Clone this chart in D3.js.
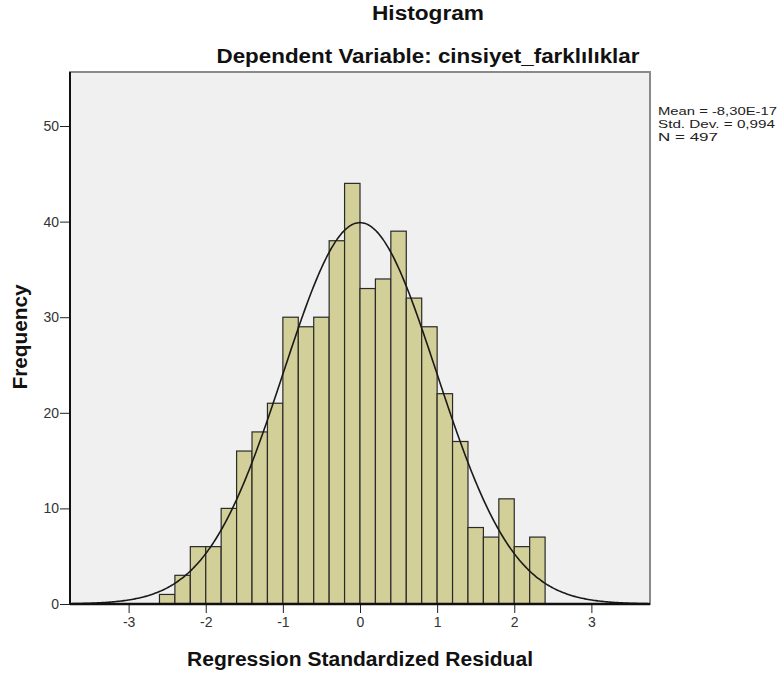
<!DOCTYPE html>
<html>
<head>
<meta charset="utf-8">
<script src="https://cdn.jsdelivr.net/npm/d3@7"></script>
<style>
  body { margin: 0; background: #fff; }
  svg { font-family: "Liberation Sans", Arial, sans-serif; }
  .axis text { font-size: 14px; fill: #333; }
  .axis path, .axis line { stroke: #222; }
</style>
</head>
<body>
<div id="canvas"></div>
<script>
// bin lower edges and counts (bin width 0.2)
var binStarts = [-2.6,-2.4,-2.2,-2.0,-1.8,-1.6,-1.4,-1.2,-1.0,-0.8,-0.6,-0.4,-0.2,
                 0,0.2,0.4,0.6,0.8,1.0,1.2,1.4,1.6,1.8,2.0,2.2];
var counts = [1,3,6,6,10,16,18,21,30,29,30,38,44,
              33,34,39,32,29,22,17,8,7,11,6,7];
var binWidth = 0.2;
var xTicks = [-3,-2,-1,0,1,2,3];
var yTicks = [0,10,20,30,40,50];
var stats = { mean: -8.30e-17, sd: 0.994, n: 497 };
var legendLines = ['Mean = -8,30E-17', 'Std. Dev. = 0,994', 'N = 497'];

var outerWidth = 778, outerHeight = 675;
var m = {t:72, r:128, b:71, l:70};
var w = outerWidth - m.l - m.r,
    h = outerHeight - m.t - m.b;

var svg = d3.select('#canvas')
    .append('svg')
    .attr('width', outerWidth)
    .attr('height', outerHeight);

var plot = svg.append('g')
    .attr('transform','translate(' + m.l + ',' + m.t + ')');

//Scale
var scaleX = d3.scaleLinear()
    .domain([-3.76, 3.76])
    .range([0, w]);
var scaleY = d3.scaleLinear()
    .domain([0, 55.65])
    .range([h, 0]);

//Background + frame
plot.append('rect')
    .attr('width', w).attr('height', h)
    .style('fill', '#f0f0f0')
    .style('stroke', '#8a8a8a')
    .style('stroke-width', 2);

//Bars
plot.selectAll('.bar')
    .data(binStarts)
    .enter()
    .append('rect')
    .attr('class','bar')
    .attr('x', function(d){ return scaleX(d) })
    .attr('width', function(d){ return scaleX(d + binWidth) - scaleX(d) })
    .attr('y', function(d,i){ return scaleY(counts[i]) })
    .attr('height', function(d,i){ return h - scaleY(counts[i]) })
    .style('fill', '#d3cf98')
    .style('stroke', '#2a2a2a')
    .style('stroke-width', 1.2);

//Normal curve from mean, sd, N
var curveX = d3.range(-3.76, 3.7601, 0.02);
var line = d3.line()
    .x(function(d){ return scaleX(d) })
    .y(function(d){
        var z = (d - stats.mean) / stats.sd;
        var f = stats.n * binWidth * Math.exp(-0.5*z*z) / (stats.sd * Math.sqrt(2*Math.PI));
        return scaleY(f);
    })
    .curve(d3.curveBasis);
plot.append('path')
    .datum(curveX)
    .attr('d', line)
    .style('fill','none')
    .style('stroke','#1a1a1a')
    .style('stroke-width', 1.6);

//Axes
var axisX = d3.axisBottom(scaleX)
    .tickValues(xTicks)
    .tickSize(9)
    .tickPadding(4)
    .tickFormat(d3.format('d'));
var axisY = d3.axisLeft(scaleY)
    .tickValues(yTicks)
    .tickSize(10)
    .tickPadding(1);

plot.append('g').attr('class','axis axis-x')
    .attr('transform','translate(0,' + h + ')')
    .call(axisX)
    .call(function(g){ g.select('.domain').remove() });
plot.append('g').attr('class','axis axis-y')
    .call(axisY)
    .call(function(g){ g.select('.domain').remove() });

plot.selectAll('.axis text').text(function(){ return this.textContent.replace('\u2212','-') });

// axis lines drawn over bars
plot.append('line')
    .attr('x1', 0).attr('x2', 0).attr('y1', 0).attr('y2', h)
    .style('stroke', '#111').style('stroke-width', 2);
plot.append('line')
    .attr('x1', 0).attr('x2', w).attr('y1', h).attr('y2', h)
    .style('stroke', '#111').style('stroke-width', 2.5);

//Titles
function boldText(x, y, txt, len){
    return svg.append('text')
        .attr('x', x).attr('y', y)
        .attr('text-anchor','middle')
        .attr('textLength', len)
        .attr('lengthAdjust','spacingAndGlyphs')
        .style('font-size','20px').style('font-weight','bold')
        .style('fill','#111')
        .text(txt);
}
boldText(428, 20, 'Histogram', 112);
boldText(428, 63, 'Dependent Variable: cinsiyet_farklılıklar', 423);
boldText(m.l + w/2, 666, 'Regression Standardized Residual', 346);
boldText(0, 0, 'Frequency', 105)
    .attr('transform','translate(27,' + 337 + ') rotate(-90)');

//Legend
var legendWidths = [119, 117, 60];
svg.append('g')
    .selectAll('text')
    .data(legendLines)
    .enter()
    .append('text')
    .attr('x', 658)
    .attr('y', function(d,i){ return 114.5 + i*13 })
    .attr('textLength', function(d,i){ return legendWidths[i] })
    .attr('lengthAdjust','spacingAndGlyphs')
    .style('font-size','11.5px')
    .style('fill','#222')
    .text(function(d){ return d });
</script>
</body>
</html>
